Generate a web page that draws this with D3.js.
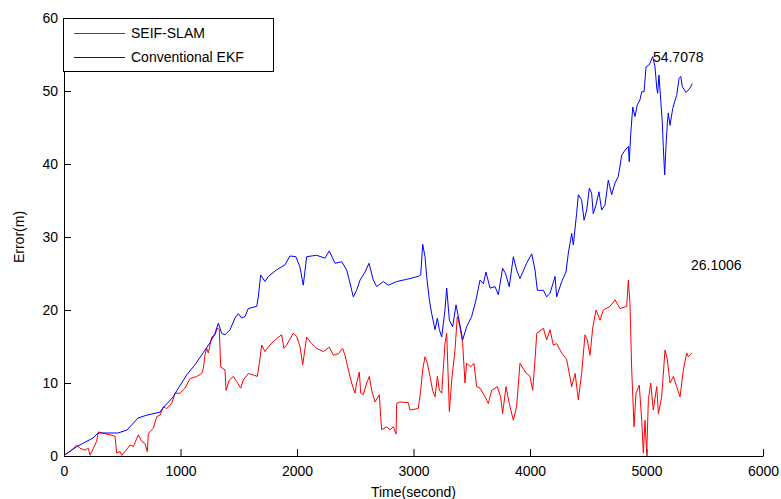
<!DOCTYPE html>
<html>
<head>
<meta charset="utf-8">
<script src="https://cdn.jsdelivr.net/npm/d3@7/dist/d3.min.js"></script>
<style>
  html, body { margin: 0; padding: 0; background: #fff; }
  svg text { font-family: "Liberation Sans", Arial, sans-serif; }
</style>
</head>
<body>
<svg id="chart" width="781" height="499"></svg>
<script>
// Localization error over time for the two estimators
const xTicks = [0, 1000, 2000, 3000, 4000, 5000, 6000];
const yTicks = [0, 10, 20, 30, 40, 50, 60];
const seriesNames = ["SEIF-SLAM", "Conventional EKF"];

const ekfTime = [0,109,249,292,395,463,541,635,712,824,850,938,970,1053,1124,1193,1253,1296,1325,1353,1382,1425,1468,1496,1525,1554,1582,1654,1668,1688,1725,1754,1825,1897,1940,1991,2025,2054,2083,2168,2240,2277,2326,2384,2426,2455,2483,2512,2541,2584,2618,2655,2684,2741,2784,2856,2942,3041,3062,3079,3099,3113,3136,3156,3185,3205,3222,3242,3270,3285,3308,3336,3365,3385,3422,3456,3499,3537,3571,3600,3622,3657,3700,3728,3765,3790,3822,3857,3885,3914,3971,4015,4043,4063,4115,4143,4172,4215,4229,4272,4309,4329,4358,4372,4400,4415,4443,4464,4487,4509,4529,4543,4567,4592,4615,4644,4672,4701,4730,4758,4787,4816,4844,4852,4865,4882,4901,4921,4944,4959,4979,4996,5024,5053,5073,5088,5096,5107,5122,5136,5144,5156,5167,5179,5187,5202,5225,5245,5259,5279,5294,5307,5339,5373,5393];
const ekfError = [0.1,1.27,2.47,3.15,3.15,3.15,3.56,5.2,5.6,6.0,6.6,8.1,9.0,11.1,12.5,14.1,15.5,16.8,18.2,16.8,16.6,17.3,18.9,19.5,18.9,19.1,20.2,20.5,21.8,24.8,23.9,24.6,25.5,26.2,27.4,27.3,25.9,23.4,27.3,27.5,27.1,28.1,26.4,26.6,25.5,23.7,21.8,22.7,24.1,25.2,26.4,24.1,23.2,23.9,23.4,23.9,24.2,24.6,24.8,29.0,27.3,24.6,21.4,19.5,17.3,18.9,17.3,16.3,20.0,23.0,18.6,17.7,20.7,19.1,15.9,17.7,19.1,21.4,24.1,23.6,25.2,23.0,23.2,22.1,25.7,25.0,23.2,27.3,25.5,24.3,26.4,27.7,25.5,22.7,22.7,21.8,22.3,24.6,21.8,23.9,25.2,27.8,30.5,28.9,33.2,35.8,35.1,32.3,33.7,36.7,36.0,33.2,34.4,36.2,33.7,34.4,37.8,35.8,37.4,38.3,41.2,41.9,42.4,40.3,44.2,47.8,46.5,48.1,48.8,49.9,49.9,53.3,53.6,54.7078,53.3,50.4,49.7,52.2,48.8,45.6,42.4,38.5,42.4,45.6,47.0,45.3,47.6,48.7,49.4,51.7,52.0,50.6,49.8,50.4,51.0];

const seifTime = [0,52,109,137,180,209,223,252,280,295,338,395,438,452,481,495,524,567,595,638,667,695,715,724,767,796,824,853,881,924,953,996,1039,1082,1139,1182,1196,1210,1225,1239,1253,1268,1296,1316,1333,1345,1382,1391,1419,1453,1482,1517,1539,1582,1625,1659,1677,1697,1725,1768,1825,1868,1888,1911,1968,1997,2026,2049,2083,2126,2168,2226,2277,2312,2355,2392,2412,2441,2469,2498,2512,2535,2547,2569,2598,2621,2641,2670,2707,2718,2727,2770,2798,2827,2850,2856,2884,2955,2970,3041,3062,3079,3099,3119,3142,3164,3185,3205,3222,3242,3270,3285,3308,3328,3356,3376,3399,3422,3442,3456,3491,3519,3542,3571,3614,3642,3671,3719,3748,3765,3794,3822,3857,3885,3914,3949,3971,4000,4023,4043,4058,4115,4143,4172,4200,4229,4272,4315,4358,4387,4415,4443,4472,4492,4515,4538,4567,4601,4629,4687,4730,4773,4830,4844,4858,4873,4893,4910,4938,4959,4973,4987,5002,5016,5036,5058,5088,5102,5130,5159,5179,5202,5231,5259,5288,5316,5345,5359,5388];
const seifError = [0.1,0.6,1.5,1.05,0.8,1.05,0.1,1.05,2.0,3.3,3.1,2.9,2.7,0.4,0.6,0.1,0.6,1.5,1.3,2.9,2.0,1.7,0.6,3.1,3.8,5.4,5.6,6.75,6.5,7.2,8.6,8.6,9.3,10.6,10.9,11.3,12.0,13.8,14.75,14.1,15.2,16.3,16.6,17.5,17.35,12.2,11.8,9.0,10.4,10.9,10.2,9.3,10.4,11.3,11.1,10.9,12.7,15.2,14.3,15.2,16.1,16.6,14.75,15.2,16.8,16.4,15.0,12.5,16.3,15.4,14.75,14.3,14.9,13.8,14.0,14.75,13.8,11.8,10.0,8.6,10.0,11.5,8.6,8.4,10.0,10.9,9.0,7.4,8.4,5.4,3.6,4.0,3.6,4.0,3.0,7.2,7.4,7.3,6.3,6.5,9.0,11.8,13.6,12.7,10.9,9.0,8.1,10.9,9.0,8.6,15.4,16.8,6.1,10.4,14.5,19.1,17.7,15.4,10.0,12.7,12.2,12.7,9.5,9.3,8.1,7.2,9.0,9.5,8.1,5.8,9.5,7.2,4.9,6.75,12.7,11.8,11.3,10.9,9.0,13.2,16.8,17.5,15.9,17.3,15.2,15.4,14.1,13.2,9.5,11.3,7.7,11.3,16.6,15.9,13.8,17.5,20.0,18.6,20.0,20.5,21.4,20.2,20.5,24.1,20.9,11.8,4.0,8.6,9.7,4.9,0.4,4.9,0.4,7.7,10.0,6.3,9.5,5.8,8.1,14.5,13.2,10.0,10.9,9.5,8.1,11.8,14.1,13.6,14.1];

// Labels placed beside the curves
const notes = [
  { t: 5055, v: 54.7078, text: "54.7078" },
  { t: 5382, v: 26.1006, text: "26.1006" }
];

const svg = d3.select("#chart");
const margin = { left: 64, top: 18, right: 18, bottom: 43 };
const W = 781, H = 499;

const x = d3.scaleLinear().domain([0, 6000]).range([margin.left, W - margin.right]);
const y = d3.scaleLinear().domain([0, 60]).range([H - margin.bottom, margin.top]);

// Axes with inward ticks
const xAxis = svg.append("g")
  .attr("transform", `translate(0,${y(0)})`)
  .call(d3.axisBottom(x).tickValues(xTicks).tickSizeInner(-7).tickSizeOuter(0).tickPadding(10).tickFormat(d3.format("d")));
const yAxis = svg.append("g")
  .attr("transform", `translate(${x(0)},0)`)
  .call(d3.axisLeft(y).tickValues(yTicks).tickSizeInner(-7).tickSizeOuter(0).tickPadding(6).tickFormat(d3.format("d")));
[xAxis, yAxis].forEach(g => {
  g.selectAll("text").attr("font-size", 14).attr("fill", "#000")
    .style("font-family", '"Liberation Sans", Arial, sans-serif');
  g.selectAll("line, path").attr("stroke", "#000");
});

// Curves
const line = d3.line().x(d => x(d[0])).y(d => y(d[1]));
const ekfData = d3.zip(ekfTime, ekfError);
const seifData = d3.zip(seifTime, seifError);

svg.append("path").datum(seifData)
  .attr("d", line).attr("fill", "none").attr("stroke", "#ff0000").attr("stroke-width", 1);
svg.append("path").datum(ekfData)
  .attr("d", line).attr("fill", "none").attr("stroke", "#0000ff").attr("stroke-width", 1);

// Value notes
svg.selectAll("text.note").data(notes).enter().append("text")
  .attr("class", "note")
  .attr("x", d => x(d.t)).attr("y", d => y(d.v))
  .attr("dy", "0.35em").attr("font-size", 14).attr("fill", "#000")
  .text(d => d.text);

// Axis titles
svg.append("text").attr("x", (x(0) + x(6000)) / 2).attr("y", 497)
  .attr("text-anchor", "middle").attr("font-size", 14).text("Time(second)");
svg.append("text").attr("transform", `translate(24,${(y(0) + y(60)) / 2}) rotate(-90)`)
  .attr("text-anchor", "middle").attr("font-size", 14).text("Error(m)");

// Legend
const legend = svg.append("g");
legend.append("rect").attr("x", 63.5).attr("y", 18.5).attr("width", 210).attr("height", 53)
  .attr("fill", "#fff").attr("stroke", "#000").attr("stroke-width", 1);
const colors = ["#ff0000", "#0000ff"];
seriesNames.forEach((name, i) => {
  const ly = 33.5 + i * 24;
  legend.append("line").attr("x1", 74).attr("x2", 125).attr("y1", ly).attr("y2", ly)
    .attr("stroke", colors[i]).attr("stroke-width", 1);
  legend.append("text").attr("x", 131).attr("y", ly).attr("dy", "0.35em")
    .attr("font-size", 14).text(name);
});
</script>
</body>
</html>
